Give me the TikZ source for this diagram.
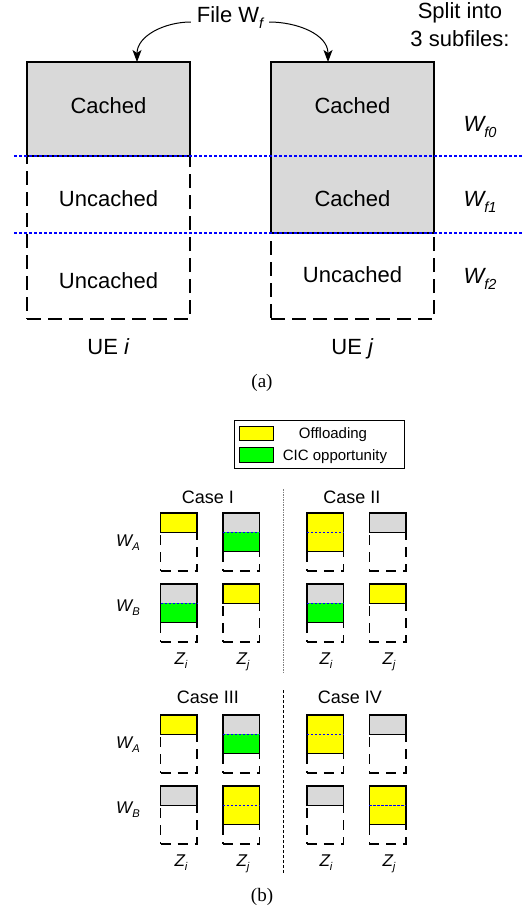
\documentclass[tikz,border=0pt]{standalone}
\usepackage{fontspec}
\setmainfont{Liberation Sans}
\newfontfamily\capfont{Liberation Serif}
\usepackage{graphicx}
\usetikzlibrary{arrows.meta}

\definecolor{cachegray}{RGB}{217,217,217}
\definecolor{offyellow}{RGB}{255,255,0}
\definecolor{cicgreen}{RGB}{0,255,0}
\definecolor{splitblue}{RGB}{0,0,255}

% small lowered subscript in the current font
\newcommand\lowsub[1]{\raisebox{-0.25em}{\scalebox{0.66}{#1}}}

% mini file block: one cached/offloaded third on top, rest uncached
\newcommand\minione[4]{%
  \node[minioutline] (#1) at (#2,#3) {};
  \node[minisolid, fill=#4, minimum height=19.3pt] (#1-f) at (#2,#3) {};
}
% mini file block: two filled thirds (upper colour, lower colour), rest uncached
\newcommand\minitwo[5]{%
  \node[minioutline] (#1) at (#2,#3) {};
  \node[minisolid, fill=#4, minimum height=38.6pt,
        path picture={\fill[#5] (path picture bounding box.west) rectangle (path picture bounding box.south east);}]
        (#1-f) at (#2,#3) {};
  \draw[minisplit] (#1-f.west) -- (#1-f.east);
}

\tikzset{
  bigcached/.style={draw, line width=1.6pt, fill=cachegray, anchor=north west, minimum width=163pt},
  bigrest/.style={draw, line width=1.6pt, dash pattern=on 14pt off 7pt, anchor=north west, minimum width=163pt},
  bigtext/.style={font=\fontsize{22}{26}\selectfont, text height=15.8pt, text depth=0pt},
  splitline/.style={splitblue, line width=1.5pt, dash pattern=on 3pt off 2pt},
  filearrow/.style={line width=1pt, -{Stealth[length=12pt,width=9pt,inset=3pt]}},
  captext/.style={font=\capfont\fontsize{19}{22}\selectfont, text height=12.5pt, text depth=0pt},
  minioutline/.style={draw, line width=1.4pt, dash pattern=on 10pt off 7pt, anchor=north west,
                      minimum width=36.5pt, minimum height=58pt},
  minisolid/.style={draw, line width=1.4pt, anchor=north west, minimum width=36.5pt},
  minisplit/.style={splitblue, line width=1.6pt, dash pattern=on 2.5pt off 1.5pt},
  casetext/.style={font=\fontsize{18}{22}\selectfont, text height=12.9pt, text depth=0pt},
  symtext/.style={font=\fontsize{17}{20}\selectfont\itshape, text height=12.2pt, text depth=0pt},
  legtext/.style={font=\fontsize{15}{18}\selectfont, text height=10.7pt, text depth=0pt},
  swatch/.style={draw, line width=1pt, anchor=north west, minimum width=34pt},
}

\begin{document}
\begin{tikzpicture}[x=1pt, y=-1pt, every node/.style={inner sep=0pt, outer sep=0pt}]
\useasboundingbox (0,0) rectangle (523,910);

% ---------------- (a) subfile caching at UE i and UE j ----------------
\node[bigrest, minimum height=163pt] (ri) at (27,156) {};
\node[bigcached, minimum height=94pt] (ci) at (27,62) {};
\node[bigrest, minimum height=86pt] (rj) at (271,233) {};
\node[bigcached, minimum height=171pt] (cj) at (271,62) {};

\node[bigtext] (ti0) at (108.5,106) {Cached};
\node[bigtext] (ti1) at (108.5,199) {Uncached};
\node[bigtext] (ti2) at (108.5,281) {Uncached};
\node[bigtext] (tj0) at (352.5,106) {Cached};
\node[bigtext] (tj1) at (352.5,199) {Cached};
\node[bigtext] (tj2) at (352.5,275) {Uncached};

\coordinate (s1a) at (14,156);  \coordinate (s1b) at (523,156);
\coordinate (s2a) at (14,233);  \coordinate (s2b) at (523,233);
\draw[splitline] (s1a) -- (s1b);
\draw[splitline] (s2a) -- (s2b);

\node[bigtext, inner xsep=6pt] (file) at (230,15) {File W\lowsub{\itshape f}};
\draw[filearrow] ([yshift=-7pt]file.west) to[out=180,in=90] ([xshift=28.5pt]ci.north);
\draw[filearrow] ([yshift=-7pt]file.east) to[out=0,in=90] ([xshift=-24.5pt]cj.north);

\node[font=\fontsize{22}{27.5}\selectfont, align=center, anchor=north] (split) at (460,3) {Split into\\3 subfiles:};

\node[bigtext] (wf0) at (480,124) {\itshape W\lowsub{f0}};
\node[bigtext] (wf1) at (480,199) {\itshape W\lowsub{f1}};
\node[bigtext] (wf2) at (480,276) {\itshape W\lowsub{f2}};

\node[bigtext] (uei) at (108.5,347) {UE \textit{i}};
\node[bigtext] (uej) at (352.5,347) {UE \textit{j}};

\node[captext] (capa) at (262,381) {(a)};

% ---------------- (b) legend ----------------
\node[draw, line width=1pt, anchor=north west, minimum width=170pt, minimum height=48pt] (legend) at (234,420) {};
\node[swatch, fill=offyellow, minimum height=14pt] (swy) at (239,426) {};
\node[swatch, fill=cicgreen, minimum height=15pt] (swg) at (239,447) {};
\node[legtext] (lo) at (333,433) {Offloading};
\node[legtext] (lc) at (335,455) {CIC opportunity};

% ---------------- (b) four cases ----------------
\coordinate (d1a) at (283,489); \coordinate (d1b) at (283,672);
\coordinate (d2a) at (283,690); \coordinate (d2b) at (283,873);
\draw[gray, line width=1pt, dash pattern=on 1.5pt off 1pt] (d1a) -- (d1b);
\draw[black, line width=1pt, dash pattern=on 3pt off 2pt] (d2a) -- (d2b);

\node[casetext] (c1) at (208,497) {Case I};
\node[casetext] (c2) at (352,497) {Case II};
\node[casetext] (c3) at (208,697) {Case III};
\node[casetext] (c4) at (350,697) {Case IV};

% Case I
\minione{IAi}{160.5}{513}{offyellow}
\minitwo{IAj}{222.8}{513}{cachegray}{cicgreen}
\minitwo{IBi}{160.5}{584}{cachegray}{cicgreen}
\minione{IBj}{222.8}{584}{offyellow}
% Case II
\minitwo{IIAi}{306.8}{513}{offyellow}{offyellow}
\minione{IIAj}{369.3}{513}{cachegray}
\minitwo{IIBi}{306.8}{584}{cachegray}{cicgreen}
\minione{IIBj}{369.3}{584}{offyellow}
% Case III
\minione{IIIAi}{160.5}{715}{offyellow}
\minitwo{IIIAj}{222.8}{715}{cachegray}{cicgreen}
\minione{IIIBi}{160.5}{786}{cachegray}
\minitwo{IIIBj}{222.8}{786}{offyellow}{offyellow}
% Case IV
\minitwo{IVAi}{306.8}{715}{offyellow}{offyellow}
\minione{IVAj}{369.3}{715}{cachegray}
\minione{IVBi}{306.8}{786}{cachegray}
\minitwo{IVBj}{369.3}{786}{offyellow}{offyellow}

% file labels
\node[symtext] (wa1) at (128,540) {W\lowsub{A}};
\node[symtext] (wb1) at (128,605) {W\lowsub{B}};
\node[symtext] (wa2) at (128,742) {W\lowsub{A}};
\node[symtext] (wb2) at (128,807) {W\lowsub{B}};

% cache labels
\node[symtext] (z1i) at (181,658) {Z\lowsub{i}};
\node[symtext] (z1j) at (243,658) {Z\lowsub{j}};
\node[symtext] (z2i) at (326,658) {Z\lowsub{i}};
\node[symtext] (z2j) at (389,658) {Z\lowsub{j}};
\node[symtext] (z3i) at (181,860) {Z\lowsub{i}};
\node[symtext] (z3j) at (243,860) {Z\lowsub{j}};
\node[symtext] (z4i) at (326,860) {Z\lowsub{i}};
\node[symtext] (z4j) at (389,860) {Z\lowsub{j}};

\node[captext] (capb) at (262,895) {(b)};
\end{tikzpicture}
\end{document}
